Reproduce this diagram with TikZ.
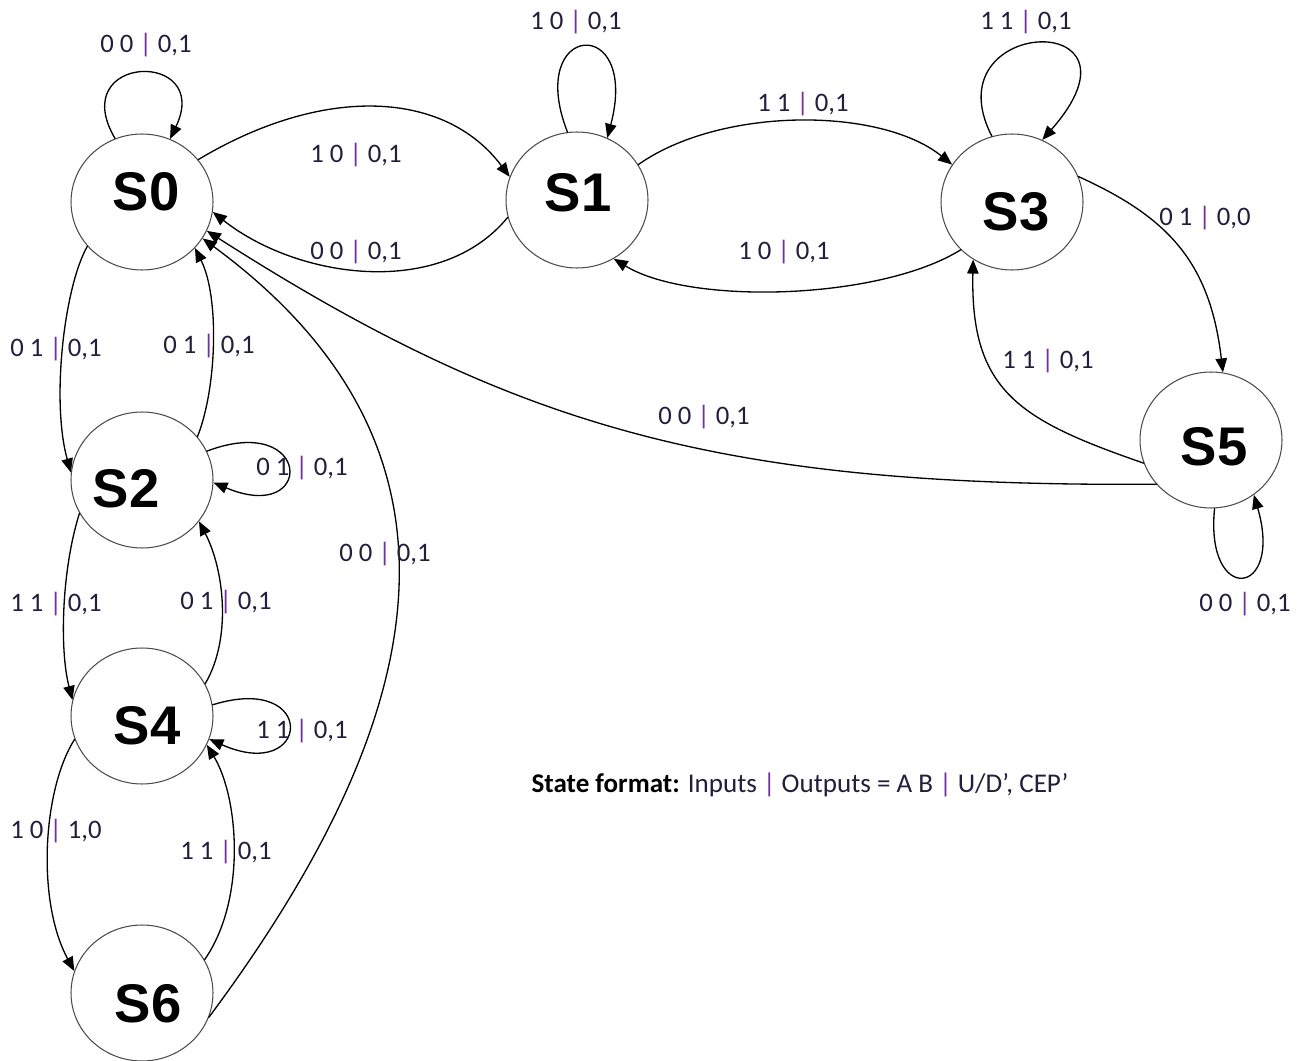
\documentclass[tikz,border=0pt]{standalone}
\usepackage{fontspec}
\setmainfont{Carlito}
\newfontfamily\statefont{Liberation Sans}
\usepackage{tikz}
\usetikzlibrary{arrows.meta}
\usetikzlibrary{shapes.geometric}
\definecolor{barpurple}{RGB}{112,48,160}
\definecolor{labelink}{RGB}{35,30,60}
\newcommand{\io}[2]{#1 {\color{barpurple}|} #2}

\begin{document}
\begin{tikzpicture}[line cap=round,line join=round,>={Triangle[length=8pt,width=6.5pt]},x=0.02cm,y=-0.02cm,
    st/.style={ellipse, draw=black!70, line width=0.6pt, minimum width=2.84cm, minimum height=2.72cm, inner sep=0pt},
    stname/.style={font=\statefont\bfseries\fontsize{31}{31}\selectfont},
    lab/.style={font=\fontsize{15.2}{17}\selectfont, text=labelink, inner sep=0pt, anchor=mid, yshift=-2.2pt},
    trans/.style={->, line width=0.75pt}]
                    \useasboundingbox (0,0) rectangle (1303,1061);

                    \node[st] (s0) at (142,202) {};
                    \node[st] (s1) at (577,200) {};
                    \node[st] (s3) at (1012,202) {};
                    \node[st] (s5) at (1211,440) {};
                    \node[st] (s2) at (142,480) {};
                    \node[st] (s4) at (142,716) {};
                    \node[st] (s6) at (142,993) {};

                    \node[stname] (t0) at (146,192) {S0};
                    \node[stname] (t1) at (578,193) {S1};
                    \node[stname] (t3) at (1016,212) {S3};
                    \node[stname] (t5) at (1214,447) {S5};
                    \node[stname] (t2) at (126,489) {S2};
                    \node[stname] (t4) at (147,726) {S4};
                    \node[stname] (t6) at (148,1004) {S6};

                    % top row
                    \draw[trans] (s0.113) .. controls +(-50,-85) and +(43,-90) .. (s0.66);
                    \draw[trans] (s0.37) .. controls +(125,-75) and +(-65,-87) .. (s1.161);
                    \draw[trans] (s1.194) .. controls +(-67,82) and +(85,67) .. (s0.352);
                    \draw[trans] (s1.98) .. controls +(-43,-110) and +(33,-125) .. (s1.64);
                    \draw[trans] (s1.30) .. controls +(82,-58) and +(-72,-58) .. (s3.148);
                    \draw[trans] (s3.223) .. controls +(-80,50) and +(77,47) .. (s1.302);
                    \draw[trans] (s3.107) .. controls +(-62,-120) and +(117,-133) .. (s3.64);
                    \draw[trans] (s3.21) .. controls +(88,40) and +(-13,-112) .. (s5.80);
                    \draw[trans] (s5.199) .. controls +(-124,-43) and +(-3,132) .. (s3.236);
                    \draw[trans] (s5.219) .. controls +(-434,3) and +(310,198) .. (s0.336);
                    \draw[trans] (s5.273) .. controls +(-10,97) and +(30,103) .. (s5.308);

                    % left column
                    \draw[trans] (s0.219) .. controls +(-23,40) and +(-20,-72) .. (s2.174);
                    \draw[trans] (s2.38) .. controls +(19,-47) and +(25,50) .. (s0.319);
                    \draw[trans] (s2.24) .. controls +(106,-40) and +(102,43) .. (s2.358);
                    \draw[trans] (s2.208) .. controls +(-18,57) and +(-13,-50) .. (s4.167);
                    \draw[trans] (s4.27) .. controls +(27,-46) and +(25,48) .. (s2.324);
                    \draw[trans] (s4.9) .. controls +(106,-33) and +(102,45) .. (s4.341);
                    \draw[trans] (s4.199) .. controls +(-32,50) and +(-38,-70) .. (s6.162);
                    \draw[trans] (s6.28) .. controls +(42,-60) and +(32,53) .. (s4.336);
                    \draw[trans] (s6.340) .. controls +(218,-293) and +(292,215) .. (s0.329);

                    \node[lab] (l00) at (146,44) {\io{0 0}{0,1}};
                    \node[lab] (l01) at (356,154) {\io{1 0}{0,1}};
                    \node[lab] (l10) at (356,251) {\io{0 0}{0,1}};
                    \node[lab] (l11) at (576,21) {\io{1 0}{0,1}};
                    \node[lab] (l13) at (803,103) {\io{1 1}{0,1}};
                    \node[lab] (l31) at (784,251) {\io{1 0}{0,1}};
                    \node[lab] (l33) at (1026,21) {\io{1 1}{0,1}};
                    \node[lab] (l35) at (1205,217) {\io{0 1}{0,0}};
                    \node[lab] (l53) at (1048,360) {\io{1 1}{0,1}};
                    \node[lab] (l50) at (704,416) {\io{0 0}{0,1}};
                    \node[lab] (l55) at (1245,603) {\io{0 0}{0,1}};
                    \node[lab] (l02) at (56,348) {\io{0 1}{0,1}};
                    \node[lab] (l20) at (209,345) {\io{0 1}{0,1}};
                    \node[lab] (l22) at (302,467) {\io{0 1}{0,1}};
                    \node[lab] (l24) at (56,603) {\io{1 1}{0,1}};
                    \node[lab] (l42) at (226,601) {\io{0 1}{0,1}};
                    \node[lab] (l44) at (302,730) {\io{1 1}{0,1}};
                    \node[lab] (l46) at (56,830) {\io{1 0}{1,0}};
                    \node[lab] (l64) at (226,851) {\io{1 1}{0,1}};
                    \node[lab] (l60) at (385,553) {\io{0 0}{0,1}};

                    \node[font=\fontsize{15.4}{17}\selectfont, text=labelink] (key) at (800,785) {\textcolor{black}{\textbf{State format:}} Inputs {\color{barpurple}|} Outputs = A B {\color{barpurple}|} U/D’, CEP’};
                \end{tikzpicture}
\end{document}
